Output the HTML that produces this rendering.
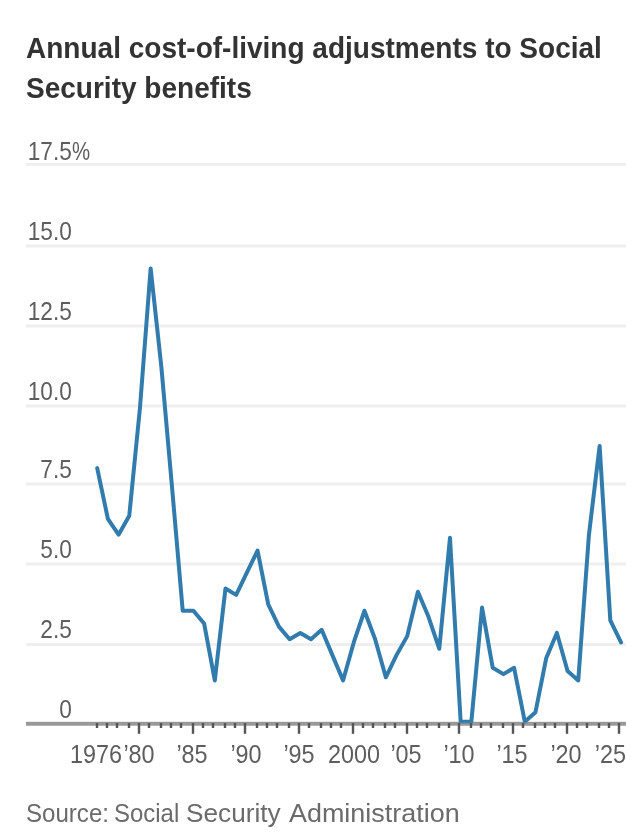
<!DOCTYPE html>
<html><head><meta charset="utf-8">
<style>
html,body{margin:0;padding:0;background:#fff;width:642px;height:838px;overflow:hidden;position:relative}
#wrap{position:absolute;left:0;top:0;width:642px;height:838px;filter:blur(0.65px)}
body{font-family:"Liberation Sans",sans-serif}
.title{position:absolute;left:26px;top:28px;font-size:29px;font-weight:bold;color:#333;line-height:40px;white-space:nowrap;transform:scaleX(0.966);transform-origin:0 0}
.yl{position:absolute;left:0;width:71.8px;text-align:right;font-size:26px;color:#5e5e5e;line-height:26px;white-space:nowrap;transform:scaleX(0.87);transform-origin:100% 0}
.yl .pct{position:absolute;left:100%;display:inline-block;transform:scaleX(0.9);transform-origin:0 0}
.xl{position:absolute;top:741px;width:80px;text-align:center;font-size:26px;color:#5e5e5e;line-height:26px;white-space:nowrap;transform:scaleX(0.9)}
.sw{position:absolute;top:0;transform-origin:0 0}
.src{position:absolute;left:0;top:798px;font-size:25.5px;color:#6b6b6b;line-height:30px;white-space:nowrap}
svg{position:absolute;left:0;top:0}
</style></head><body><div id="wrap">
<div class="title">Annual cost-of-living adjustments to Social<br>Security benefits</div>
<svg width="642" height="838" viewBox="0 0 642 838">
<rect x="26" y="643.10" width="600" height="3" fill="#efefef"/>
<rect x="26" y="562.50" width="600" height="3" fill="#efefef"/>
<rect x="26" y="482.50" width="600" height="3" fill="#efefef"/>
<rect x="26" y="404.50" width="600" height="3" fill="#efefef"/>
<rect x="26" y="324.50" width="600" height="3" fill="#efefef"/>
<rect x="26" y="244.50" width="600" height="3" fill="#efefef"/>
<rect x="26" y="162.80" width="600" height="3" fill="#efefef"/>

<rect x="26" y="721.8" width="600" height="3.8" fill="#999"/>
<polyline points="97.20,468.10 107.89,518.82 118.58,534.67 129.27,515.65 139.96,407.87 150.65,268.39 161.34,366.66 172.03,487.12 182.72,610.75 193.41,610.75 204.10,623.43 214.79,680.49 225.48,588.56 236.17,594.90 246.86,572.71 257.55,550.52 268.24,604.41 278.93,626.60 289.62,639.28 300.31,632.94 311.00,639.28 321.69,629.77 332.38,655.13 343.07,680.49 353.76,642.45 364.45,610.75 375.14,639.28 385.83,677.32 396.52,655.13 407.21,636.11 417.90,591.73 428.59,617.09 439.28,648.79 449.97,537.84 460.66,721.70 471.35,721.70 482.04,607.58 492.73,667.81 503.42,674.15 514.11,667.81 524.80,721.70 535.49,712.19 546.18,658.30 556.87,632.94 567.56,670.98 578.25,680.49 588.94,534.67 599.63,445.91 610.32,620.26 621.01,642.45" fill="none" stroke="#317bad" stroke-width="4.0" stroke-linejoin="round" stroke-linecap="round"/>
<rect x="26" y="722.6" width="600" height="3" fill="#999" fill-opacity="0.55"/>
<rect x="95.80" y="723" width="2.4" height="5" fill="#555"/>
<rect x="105.80" y="723" width="2.4" height="5" fill="#555"/>
<rect x="115.80" y="723" width="2.4" height="5" fill="#555"/>
<rect x="127.80" y="723" width="2.4" height="5" fill="#555"/>
<rect x="137.80" y="723" width="2.4" height="10.8" fill="#555"/>
<rect x="147.80" y="723" width="2.4" height="5" fill="#555"/>
<rect x="159.80" y="723" width="2.4" height="5" fill="#555"/>
<rect x="169.80" y="723" width="2.4" height="5" fill="#555"/>
<rect x="179.80" y="723" width="2.4" height="5" fill="#555"/>
<rect x="191.80" y="723" width="2.4" height="10.8" fill="#555"/>
<rect x="201.80" y="723" width="2.4" height="5" fill="#555"/>
<rect x="211.80" y="723" width="2.4" height="5" fill="#555"/>
<rect x="223.80" y="723" width="2.4" height="5" fill="#555"/>
<rect x="233.80" y="723" width="2.4" height="5" fill="#555"/>
<rect x="243.80" y="723" width="2.4" height="10.8" fill="#555"/>
<rect x="255.80" y="723" width="2.4" height="5" fill="#555"/>
<rect x="265.80" y="723" width="2.4" height="5" fill="#555"/>
<rect x="275.80" y="723" width="2.4" height="5" fill="#555"/>
<rect x="287.80" y="723" width="2.4" height="5" fill="#555"/>
<rect x="297.80" y="723" width="2.4" height="10.8" fill="#555"/>
<rect x="307.80" y="723" width="2.4" height="5" fill="#555"/>
<rect x="319.80" y="723" width="2.4" height="5" fill="#555"/>
<rect x="329.80" y="723" width="2.4" height="5" fill="#555"/>
<rect x="339.80" y="723" width="2.4" height="5" fill="#555"/>
<rect x="351.80" y="723" width="2.4" height="10.8" fill="#555"/>
<rect x="361.80" y="723" width="2.4" height="5" fill="#555"/>
<rect x="371.80" y="723" width="2.4" height="5" fill="#555"/>
<rect x="383.80" y="723" width="2.4" height="5" fill="#555"/>
<rect x="393.80" y="723" width="2.4" height="5" fill="#555"/>
<rect x="405.80" y="723" width="2.4" height="10.8" fill="#555"/>
<rect x="415.80" y="723" width="2.4" height="5" fill="#555"/>
<rect x="425.80" y="723" width="2.4" height="5" fill="#555"/>
<rect x="437.80" y="723" width="2.4" height="5" fill="#555"/>
<rect x="447.80" y="723" width="2.4" height="5" fill="#555"/>
<rect x="457.80" y="723" width="2.4" height="10.8" fill="#555"/>
<rect x="469.80" y="723" width="2.4" height="5" fill="#555"/>
<rect x="479.80" y="723" width="2.4" height="5" fill="#555"/>
<rect x="489.80" y="723" width="2.4" height="5" fill="#555"/>
<rect x="501.80" y="723" width="2.4" height="5" fill="#555"/>
<rect x="511.80" y="723" width="2.4" height="10.8" fill="#555"/>
<rect x="521.80" y="723" width="2.4" height="5" fill="#555"/>
<rect x="533.80" y="723" width="2.4" height="5" fill="#555"/>
<rect x="543.80" y="723" width="2.4" height="5" fill="#555"/>
<rect x="553.80" y="723" width="2.4" height="5" fill="#555"/>
<rect x="565.80" y="723" width="2.4" height="10.8" fill="#555"/>
<rect x="575.80" y="723" width="2.4" height="5" fill="#555"/>
<rect x="585.80" y="723" width="2.4" height="5" fill="#555"/>
<rect x="597.80" y="723" width="2.4" height="5" fill="#555"/>
<rect x="607.80" y="723" width="2.4" height="5" fill="#555"/>
<rect x="617.80" y="723" width="2.4" height="10.8" fill="#555"/>

</svg>
<div class="yl" style="top:695.7px">0</div>
<div class="yl" style="top:616.3px">2.5</div>
<div class="yl" style="top:535.7px">5.0</div>
<div class="yl" style="top:455.7px">7.5</div>
<div class="yl" style="top:377.7px">10.0</div>
<div class="yl" style="top:297.7px">12.5</div>
<div class="yl" style="top:217.7px">15.0</div>
<div class="yl" style="top:138.0px">17.5<span class=pct>%</span></div>

<div class="xl" style="left:56.3px">1976</div>
<div class="xl" style="left:99.0px">’80</div>
<div class="xl" style="left:152.3px">’85</div>
<div class="xl" style="left:205.6px">’90</div>
<div class="xl" style="left:259.0px">’95</div>
<div class="xl" style="left:314.3px">2000</div>
<div class="xl" style="left:365.6px">’05</div>
<div class="xl" style="left:419.0px">’10</div>
<div class="xl" style="left:472.3px">’15</div>
<div class="xl" style="left:525.6px">’20</div>
<div class="xl" style="left:546px;text-align:right;transform-origin:100% 0">’25</div>

<div class="src"><span class="sw" style="left:26.0px;transform:scaleX(0.944)">Source:</span><span class="sw" style="left:114.4px;transform:scaleX(0.939)">Social</span><span class="sw" style="left:186.2px;transform:scaleX(1.028)">Security</span><span class="sw" style="left:288.8px;transform:scaleX(1.056)">Administration</span></div>
</div></body></html>
